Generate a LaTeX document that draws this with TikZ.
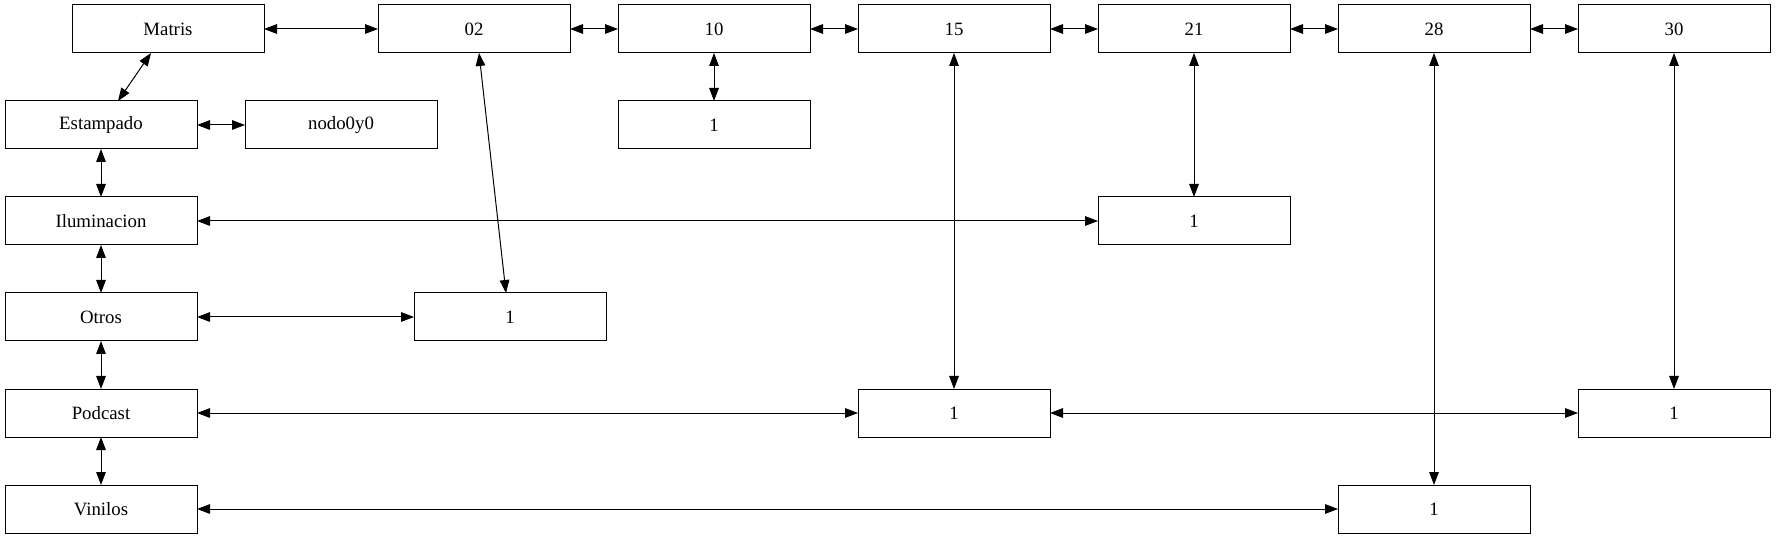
\documentclass[tikz,border=0pt]{standalone}
\usepackage{fontspec}
\setmainfont{Liberation Serif}
\usepackage{tikz}
\usetikzlibrary{arrows.meta,positioning,calc}
\tikzset{cj/.style={draw, rectangle, line width=0.5pt, minimum width=96pt, minimum height=24pt, inner sep=0pt, outer sep=0pt}}

\begin{document}
\begin{tikzpicture}[>={Triangle[length=6.5pt,width=4.8pt]}, line width=0.5pt, node distance=24pt, font=\fontsize{9.4pt}{11pt}\selectfont]
\useasboundingbox (0,0) rectangle (888pt,-269.5pt);
\node[cj] at (50.5pt,-62.5pt) (Est){Estampado};
\node[cj][below=of Est] (Ilu){Iluminacion};
\node[cj][below=of Ilu] (Otr){Otros};
\node[cj][below=of Otr] (Pod){Podcast};
\node[cj][below=of Pod] (Vin){Vinilos};
\node[cj][above=of Est, xshift=33.5pt] (Mat){Matris};
\node[cj][right=57pt of Mat] (N02){02};
\node[cj][right=of N02] (N10){10};
\node[cj][right=of N10] (N15){15};
\node[cj][right=of N15] (N21){21};
\node[cj][right=of N21] (N28){28};
\node[cj][right=of N28] (N30){30};
\node[cj][right=of Est] (Nod){nodo0y0};
\node[cj][below=of N10] (U10){1};
\node[cj] at (N21 |- Ilu) (U21){1};
\node[cj][right=108.5pt of Otr] (U02){1};
\node[cj] at (N15 |- Pod) (U15){1};
\node[cj] at (N30 |- Pod) (U30){1};
\node[cj] at (N28 |- Vin) (U28){1};
\path[<->](Mat) edge (N02)
	(N02) edge (N10)
	(N10) edge (N15)
	      edge (U10)
	(N15) edge (N21)
	      edge (U15)
	(N21) edge (N28)
	      edge (U21)
	(N28) edge (N30)
	      edge (U28)
	(N30) edge (U30)
	([xshift=8.5pt]Est.north) edge ([xshift=-8.5pt]Mat.south)
	([xshift=2.5pt]N02.south) edge ([xshift=-2pt]U02.north)
	(Est) edge (Nod)
	      edge (Ilu)
	(Ilu) edge (U21)
	      edge (Otr)
	(Otr) edge (U02)
	      edge (Pod)
	(Pod) edge (U15)
	      edge (Vin)
	(U15) edge (U30)
	(Vin) edge (U28)
;
\end{tikzpicture}
\end{document}
